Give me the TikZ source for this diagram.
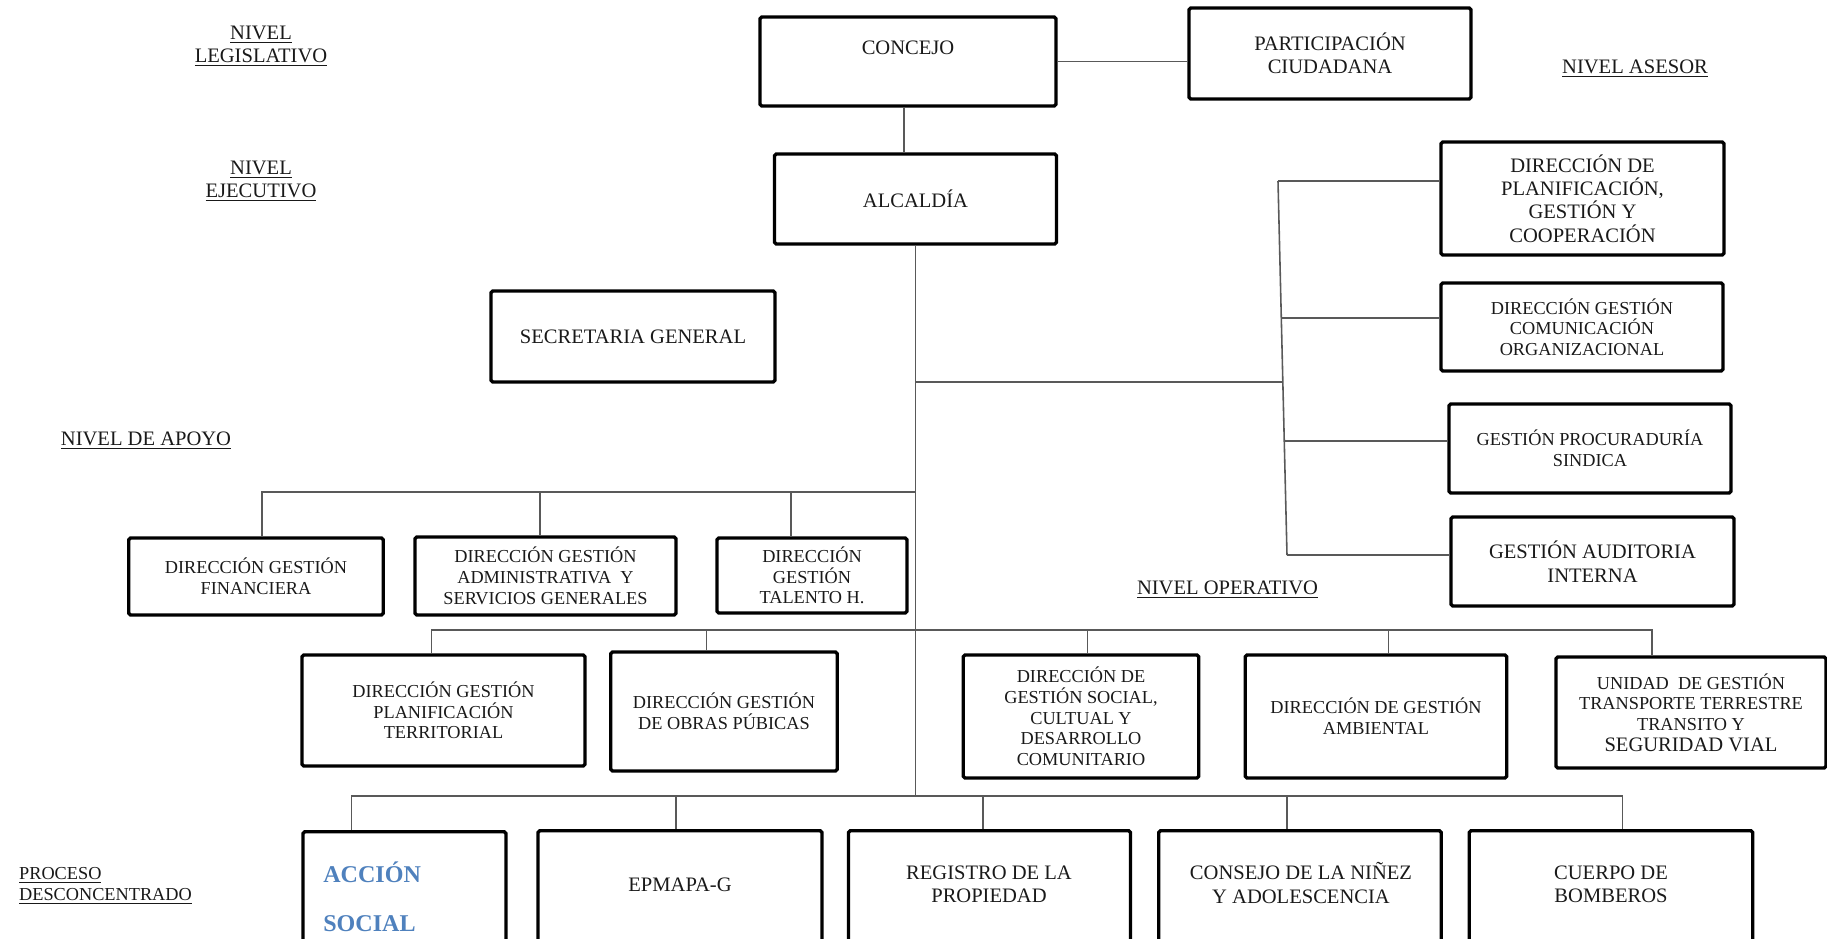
\documentclass[tikz,border=0pt]{standalone}
\usepackage{fontspec}
\setmainfont{Liberation Serif}
\definecolor{accblue}{RGB}{79,129,189}
\newcommand{\bigtxt}{\fontsize{11.7}{13.3}\selectfont}
\newcommand{\smalltxt}{\fontsize{10.4}{11.8}\selectfont}
\tikzset{
  unit/.style={draw, line width=1.9pt, rounded corners=1pt, align=center, inner sep=2pt, text=black!90, font=\bigtxt},
  smallunit/.style={unit, font=\smalltxt},
  link/.style={draw=black!65, line width=0.9pt},
  tag/.style={align=center, text=black!90, font=\bigtxt},
  accion/.style={text=accblue, font=\fontsize{13.7}{16}\selectfont\bfseries, inner sep=0pt, anchor=base west},
}
\begin{document}
\begin{tikzpicture}[x=0.02cm, y=-0.02cm]
  \useasboundingbox (0,0) rectangle (1827,939);
  \clip (0,0) rectangle (1827,939);
  % Level captions
  \node[tag] (legis) at (261,46.5) {\underline{NIVEL}\\\underline{LEGISLATIVO}};
  \node[tag] (ejec) at (261,181.5) {\underline{NIVEL}\\\underline{EJECUTIVO}};
  \node[tag] (asesorlbl) at (1635,69) {\underline{NIVEL ASESOR}};
  \node[tag] (apoyolbl) at (146,441) {\underline{NIVEL DE APOYO}};
  \node[tag] (operlbl) at (1227.5,590) {\underline{NIVEL OPERATIVO}};
  \node[tag, font=\smalltxt, align=left, anchor=west] (procesolbl) at (13,886) {\underline{PROCESO}\\\underline{DESCONCENTRADO}};
  % Legislative and executive
  \node[unit, minimum width=5.92cm, inner sep=0pt, text height=0.76cm, text depth=1.02cm] (concejo) at (908,61.5) {CONCEJO};
  \node[unit, minimum width=5.64cm, minimum height=1.82cm] (particip) at (1330,53.5) {PARTICIPACIÓN\\CIUDADANA};
  \node[unit, minimum width=5.64cm, minimum height=1.8cm] (alcaldia) at (915.5,199) {ALCALDÍA};
  \node[unit, minimum width=5.68cm, minimum height=1.82cm] (secretaria) at (633,336.5) {SECRETARIA GENERAL};
  \draw[link] (concejo.east) -- (concejo.east -| particip.west);
  \draw[link] ([xshift=-0.08cm]concejo.south) -- ([xshift=-0.08cm]concejo.south |- alcaldia.north);
  % Trunk and bus points
  \coordinate (asesor) at (915,382);
  \coordinate (apoyo) at (915,492);
  \coordinate (operativo) at (915,630);
  \coordinate (trunk) at (915,796);
  \draw[link] (alcaldia.south) -- (alcaldia.south |- trunk);
  % Advisory level
  \node[unit, minimum width=5.66cm, minimum height=2.26cm] (planif) at (1582.5,198.5) {DIRECCIÓN DE\\PLANIFICACIÓN,\\GESTIÓN Y\\COOPERACIÓN};
  \node[smallunit, minimum width=5.64cm, minimum height=1.76cm] (comunic) at (1582,327) {DIRECCIÓN GESTIÓN\\COMUNICACIÓN\\ORGANIZACIONAL};
  \node[smallunit, minimum width=5.64cm, minimum height=1.78cm] (procur) at (1590,448.5) {GESTIÓN PROCURADURÍA\\SINDICA};
  \node[unit, minimum width=5.66cm, minimum height=1.78cm] (auditoria) at (1592.5,561.5) {GESTIÓN AUDITORIA\\INTERNA};
  \coordinate (ases1) at (1278,181);
  \coordinate (ases2) at (1281.3,318);
  \coordinate (asesJ) at (1282.8,382);
  \coordinate (ases3) at (1284.3,441);
  \coordinate (ases4) at (1287,555);
  \draw[link] (ases1) -- (ases4);
  \draw[link] (asesor) -- (asesJ);
  \draw[link] (ases1) -- (ases1 -| planif.west);
  \draw[link] (ases2) -- (ases2 -| comunic.west);
  \draw[link] (ases3) -- (ases3 -| procur.west);
  \draw[link] (ases4) -- (ases4 -| auditoria.west);
  % Support level
  \node[smallunit, minimum width=5.09cm, minimum height=1.54cm] (financiera) at (256,576.5) {DIRECCIÓN GESTIÓN\\FINANCIERA};
  \node[smallunit, minimum width=5.22cm, minimum height=1.56cm] (administrativa) at (545.5,576) {DIRECCIÓN GESTIÓN\\ADMINISTRATIVA\ \ Y\\SERVICIOS GENERALES};
  \node[smallunit, minimum width=3.8cm, minimum height=1.5cm] (talento) at (812,575.5) {DIRECCIÓN\\GESTIÓN\\TALENTO H.};
  \draw[link] (apoyo) -| ([xshift=0.12cm]financiera.north);
  \draw[link] ([xshift=-0.11cm]administrativa.north) -- ([xshift=-0.11cm]administrativa.north |- apoyo);
  \draw[link] ([xshift=-0.42cm]talento.north) -- ([xshift=-0.42cm]talento.north |- apoyo);
  % Operative level
  \node[smallunit, minimum width=5.66cm, minimum height=2.22cm] (planter) at (443.5,710.5) {DIRECCIÓN GESTIÓN\\PLANIFICACIÓN\\TERRITORIAL};
  \node[smallunit, minimum width=4.53cm, minimum height=2.38cm] (obras) at (724,711.5) {DIRECCIÓN GESTIÓN\\DE OBRAS PÚBICAS};
  \node[smallunit, minimum width=4.71cm, minimum height=2.46cm] (social) at (1081,716.5) {DIRECCIÓN DE\\GESTIÓN SOCIAL,\\CULTUAL Y\\DESARROLLO\\COMUNITARIO};
  \node[smallunit, minimum width=5.23cm, minimum height=2.46cm] (ambiental) at (1376,716.5) {DIRECCIÓN DE GESTIÓN\\AMBIENTAL};
  \node[smallunit, minimum width=5.4cm, minimum height=2.22cm] (unidad) at (1691,712.5) {UNIDAD\ \ DE GESTIÓN\\TRANSPORTE TERRESTRE\\TRANSITO Y\\{\bigtxt SEGURIDAD VIAL}};
  \draw[link] ([xshift=-0.24cm]planter.north) |- (operativo) -| ([xshift=-0.78cm]unidad.north);
  \foreach \n/\s in {obras/-0.35, social/0.13, ambiental/0.25}
    \draw[link] ([xshift=\s cm]\n.north) -- ([xshift=\s cm]\n.north |- operativo);
  % Deconcentrated process
  \node[unit, minimum width=4.06cm, minimum height=3cm, anchor=north] (accion) at (404.5,830) {};
  \node[unit, minimum width=5.68cm, minimum height=3cm, anchor=north] (epmapa) at (680,829) {};
  \node[unit, minimum width=5.64cm, minimum height=3cm, anchor=north] (registro) at (989.5,829) {};
  \node[unit, minimum width=5.65cm, minimum height=3cm, anchor=north] (ninez) at (1300,829) {};
  \node[unit, minimum width=5.67cm, minimum height=3cm, anchor=north] (bomberos) at (1611,829) {};
  \node[accion] (accion1) at (323,882) {ACCIÓN};
  \node[accion] (accion2) at (323,931) {SOCIAL};
  \node[tag] (epmapatxt) at (680,885) {EPMAPA-G};
  \node[tag] (registrotxt) at (989,884) {REGISTRO DE LA\\PROPIEDAD};
  \node[tag] (ninezttxt) at (1301,883) {CONSEJO DE LA NIÑEZ\\Y ADOLESCENCIA};
  \node[tag] (bomberostxt) at (1611,884) {CUERPO DE\\BOMBEROS};
  \draw[link] ([xshift=-1.06cm]accion.north) |- (trunk) -| ([xshift=0.23cm]bomberos.north);
  \foreach \n/\s in {epmapa/-0.08, registro/-0.13, ninez/-0.26}
    \draw[link] ([xshift=\s cm]\n.north) -- ([xshift=\s cm]\n.north |- trunk);
\end{tikzpicture}
\end{document}
